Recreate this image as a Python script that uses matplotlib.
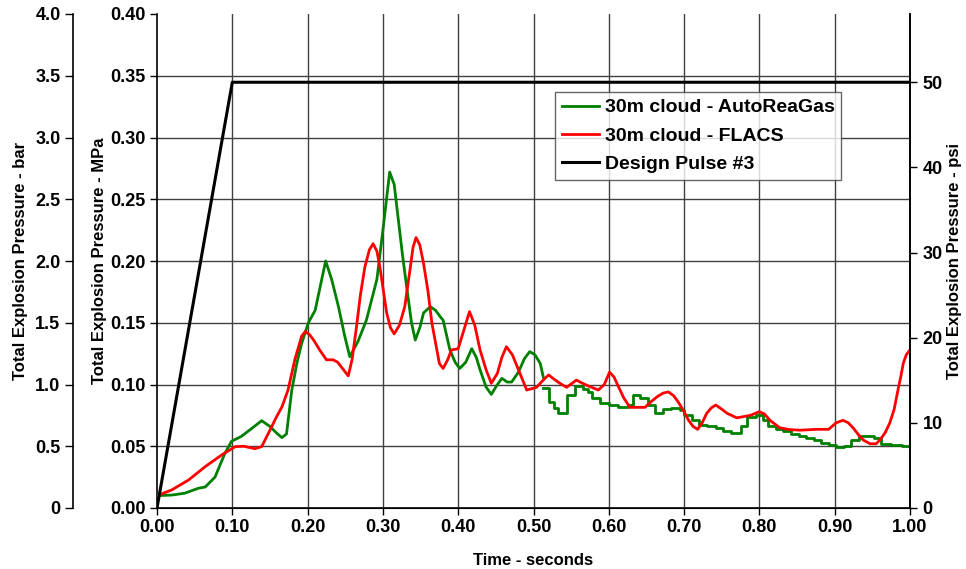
import matplotlib
matplotlib.use("Agg")
import matplotlib.pyplot as plt
import numpy as np

plt.rcParams['font.family'] = ['Liberation Sans', 'DejaVu Sans']
plt.rcParams['font.weight'] = 'bold'

# ---- data (time in s, pressure in MPa) ----
green_smooth_t = [0.0, 0.02, 0.037, 0.055, 0.064, 0.077, 0.090, 0.099, 0.112, 0.126, 0.139, 0.150,
                  0.160, 0.166, 0.172, 0.179, 0.186, 0.192, 0.201, 0.210, 0.217, 0.224, 0.232, 0.241,
                  0.249, 0.256, 0.267, 0.278, 0.292, 0.300, 0.309, 0.315, 0.320, 0.326, 0.332, 0.338,
                  0.343, 0.349, 0.354, 0.363, 0.370, 0.376, 0.380, 0.389, 0.396, 0.402, 0.410, 0.418,
                  0.424, 0.429, 0.437, 0.444, 0.451, 0.458, 0.465, 0.471, 0.480, 0.488, 0.495, 0.502,
                  0.509, 0.513]
green_smooth_p = [0.010, 0.0105, 0.012, 0.016, 0.017, 0.025, 0.044, 0.054, 0.058, 0.0645, 0.0707, 0.066,
                  0.060, 0.057, 0.060, 0.0955, 0.118, 0.133, 0.150, 0.160, 0.180, 0.200, 0.185, 0.163,
                  0.140, 0.1225, 0.135, 0.152, 0.185, 0.225, 0.272, 0.262, 0.236, 0.205, 0.177, 0.150,
                  0.136, 0.146, 0.158, 0.163, 0.160, 0.155, 0.152, 0.128, 0.118, 0.113, 0.118, 0.129,
                  0.122, 0.112, 0.098, 0.092, 0.099, 0.105, 0.102, 0.102, 0.110, 0.121, 0.1266, 0.124,
                  0.117, 0.106]

green_step_t = [0.513, 0.520, 0.527, 0.533, 0.544, 0.555, 0.566, 0.572, 0.578, 0.588, 0.600, 0.612,
                0.625, 0.632, 0.642, 0.652, 0.662, 0.672, 0.683, 0.694, 0.700, 0.710, 0.720, 0.731,
                0.742, 0.752, 0.762, 0.776, 0.783, 0.795, 0.805, 0.812, 0.822, 0.832, 0.842, 0.852,
                0.862, 0.872, 0.882, 0.892, 0.902, 0.912, 0.922, 0.932, 0.952, 0.962, 0.975, 0.990,
                1.000]
green_step_p = [0.097, 0.086, 0.081, 0.077, 0.0915, 0.0988, 0.096, 0.094, 0.089, 0.085, 0.083, 0.082,
                0.083, 0.0915, 0.089, 0.083, 0.077, 0.080, 0.081, 0.079, 0.0755, 0.071, 0.067, 0.066,
                0.0645, 0.062, 0.0605, 0.066, 0.074, 0.0755, 0.071, 0.066, 0.064, 0.062, 0.060, 0.058,
                0.0565, 0.055, 0.053, 0.051, 0.049, 0.050, 0.055, 0.058, 0.057, 0.052, 0.051, 0.050,
                0.049]

red_t = [0.0, 0.0195, 0.042, 0.064, 0.086, 0.104, 0.115, 0.123, 0.130, 0.139, 0.150, 0.158, 0.166, 0.174,
         0.183, 0.192, 0.197, 0.203, 0.208, 0.216, 0.225, 0.234, 0.240, 0.245, 0.254, 0.259, 0.265, 0.270,
         0.276, 0.282, 0.287, 0.292, 0.296, 0.305, 0.310, 0.315, 0.322, 0.329, 0.336, 0.340, 0.344, 0.349,
         0.354, 0.360, 0.365, 0.375, 0.380, 0.386, 0.391, 0.400, 0.408, 0.415, 0.422, 0.429, 0.437, 0.444,
         0.452, 0.458, 0.464, 0.472, 0.480, 0.491, 0.504, 0.512, 0.520, 0.528, 0.535, 0.544, 0.557, 0.565,
         0.573, 0.586, 0.594, 0.601, 0.607, 0.613, 0.620, 0.628, 0.648, 0.656, 0.664, 0.672, 0.679, 0.686,
         0.692, 0.699, 0.706, 0.712, 0.718, 0.724, 0.730, 0.736, 0.742, 0.750, 0.757, 0.770, 0.788, 0.800,
         0.807, 0.814, 0.827, 0.840, 0.854, 0.876, 0.892, 0.902, 0.911, 0.918, 0.925, 0.932, 0.938, 0.947,
         0.955, 0.960, 0.967, 0.973, 0.979, 0.984, 0.988, 0.991, 0.995, 1.0]
red_p = [0.010, 0.0146, 0.0227, 0.0335, 0.043, 0.0497, 0.050, 0.049, 0.048, 0.0497, 0.063, 0.073, 0.082,
         0.0955, 0.120, 0.139, 0.143, 0.140, 0.136, 0.128, 0.120, 0.120, 0.118, 0.114, 0.107, 0.120, 0.147,
         0.172, 0.195, 0.209, 0.214, 0.208, 0.195, 0.158, 0.146, 0.141, 0.148, 0.163, 0.193, 0.211, 0.219,
         0.213, 0.198, 0.175, 0.150, 0.117, 0.113, 0.120, 0.128, 0.129, 0.145, 0.159, 0.148, 0.128, 0.112,
         0.101, 0.109, 0.122, 0.1306, 0.124, 0.112, 0.0955, 0.0977, 0.103, 0.1077, 0.104, 0.101, 0.0977,
         0.1036, 0.101, 0.0988, 0.0955, 0.100, 0.110, 0.106, 0.098, 0.089, 0.0815, 0.0815, 0.086, 0.090,
         0.093, 0.094, 0.091, 0.086, 0.079, 0.071, 0.066, 0.0637, 0.069, 0.0767, 0.081, 0.0834, 0.080,
         0.0767, 0.073, 0.075, 0.078, 0.076, 0.071, 0.065, 0.0635, 0.063, 0.0637, 0.0637, 0.069, 0.071,
         0.069, 0.0645, 0.059, 0.055, 0.052, 0.052, 0.055, 0.061, 0.0686, 0.080, 0.0955, 0.107, 0.117,
         0.124, 0.128]

design_t = [0.0, 0.10, 1.0]
design_psi = [0.0, 50.0, 50.0]

PSI_PER_MPA = 145.0377
design_p = [v / PSI_PER_MPA for v in design_psi]

x_ticks = [0.0, 0.1, 0.2, 0.3, 0.4, 0.5, 0.6, 0.7, 0.8, 0.9, 1.0]
mpa_ticks = [0.0, 0.05, 0.10, 0.15, 0.20, 0.25, 0.30, 0.35, 0.40]
bar_ticks = [0.0, 0.5, 1.0, 1.5, 2.0, 2.5, 3.0, 3.5, 4.0]
bar_labels = ['0', '0.5', '1.0', '1.5', '2.0', '2.5', '3.0', '3.5', '4.0']
psi_ticks = [0, 10, 20, 30, 40, 50]

TICK_FS = 13
LABEL_FS = 12

# ---- figure ----
fig = plt.figure(figsize=(9.66, 5.69), dpi=100)
L, R, B, T = 157/966, 910/966, 61/569, 555/569
ax = fig.add_axes([L, B, R - L, T - B])

GRID = '#404040'
for xv in x_ticks[1:-1]:
    ax.axvline(xv, color=GRID, lw=1.0, zorder=1)
for yv in mpa_ticks[1:-1]:
    ax.axhline(yv, color=GRID, lw=1.0, zorder=1)

ax.plot(green_smooth_t, green_smooth_p, color='#008000', lw=2.0, zorder=3,
        label='30m cloud - AutoReaGas')
ax.plot(green_step_t, green_step_p, color='#008000', lw=2.0, zorder=3, drawstyle='steps-post')
ax.plot(red_t, red_p, color='#ff0000', lw=2.0, zorder=4, label='30m cloud - FLACS')
ax.plot(design_t, design_p, color='black', lw=2.2, zorder=5, label='Design Pulse #3')

ax.set_xlim(0, 1.0)
ax.set_ylim(0, 0.40)
ax.set_xticks(x_ticks)
ax.set_xticklabels(['%.2f' % v for v in x_ticks], fontsize=TICK_FS, fontweight='bold')
ax.set_yticks(mpa_ticks)
ax.set_yticklabels(['%.2f' % v for v in mpa_ticks], fontsize=TICK_FS, fontweight='bold')
ax.tick_params(axis='both', direction='out', length=5, width=1, colors='black', pad=3)
for s in ax.spines.values():
    s.set_linewidth(1.2)
ax.spines['top'].set_visible(False)
ax.set_xlabel('Time - seconds', fontsize=LABEL_FS, fontweight='bold', labelpad=12)
ax.set_ylabel('Total Explosion Pressure - MPa', fontsize=LABEL_FS, fontweight='bold', labelpad=2.5)

# psi axis on the right
axp = ax.twinx()
axp.set_ylim(0, 0.40 * PSI_PER_MPA)
axp.set_yticks(psi_ticks)
axp.set_yticklabels([str(v) for v in psi_ticks], fontsize=TICK_FS, fontweight='bold')
axp.tick_params(axis='y', direction='out', length=5, width=1, pad=4)
axp.spines['right'].set_linewidth(1.2)
axp.spines['top'].set_visible(False)
axp.spines['left'].set_visible(False)
axp.set_ylabel('Total Explosion Pressure - psi', fontsize=LABEL_FS, fontweight='bold', labelpad=3)

# bar axis on the far left
axb = fig.add_axes([L, B, R - L, T - B])
axb.patch.set_visible(False)
for side in ['top', 'right', 'bottom']:
    axb.spines[side].set_visible(False)
axb.spines['left'].set_position(('outward', 84 * 72 / 100))
axb.spines['left'].set_linewidth(1.2)
axb.set_xticks([])
axb.set_ylim(0, 4.0)
axb.set_yticks(bar_ticks)
axb.set_yticklabels(bar_labels, fontsize=TICK_FS, fontweight='bold')
axb.tick_params(axis='y', direction='out', length=6, width=1, pad=3)
axb.set_ylabel('Total Explosion Pressure - bar', fontsize=LABEL_FS, fontweight='bold', labelpad=5)

leg = ax.legend(loc='upper left', bbox_to_anchor=((555 - 157) / 753, (508 - 92) / 494),
                prop={'weight': 'bold', 'size': 14}, frameon=True, fancybox=False,
                borderpad=0.35, handlelength=1.9, handletextpad=0.3, labelspacing=0.55,
                borderaxespad=0)
leg.get_frame().set_edgecolor('#404040')
leg.get_frame().set_linewidth(1.0)
leg.set_zorder(10)

fig.savefig('out.png', dpi=100)
